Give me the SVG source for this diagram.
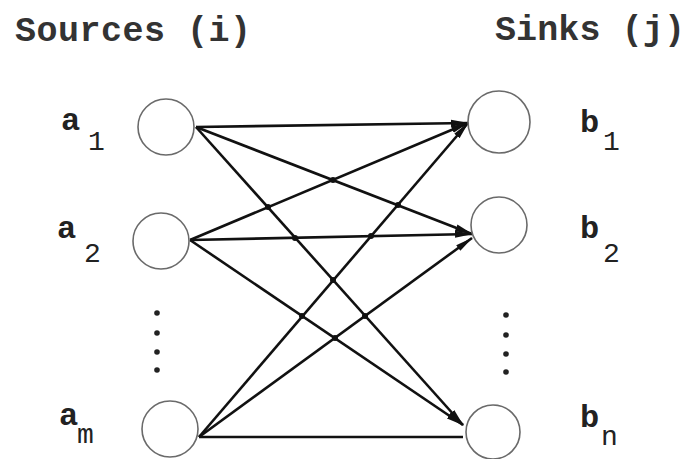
<svg xmlns="http://www.w3.org/2000/svg" width="686" height="459" viewBox="0 0 686 459">
<style>
.node{fill:none;stroke:#6a6a6a;stroke-width:1.6}
.edge{stroke:#111;stroke-width:2.6;fill:none}
.lbl{font-family:"Liberation Mono","DejaVu Sans Mono",monospace;font-weight:bold;fill:#222}
.big{font-size:32px}
.sub{font-size:28px;font-weight:normal}
.title{font-family:"Liberation Mono","DejaVu Sans Mono",monospace;font-size:35px;font-weight:bold;fill:#333}
.jd{fill:#111}
.ell{fill:#222}
</style>
<defs>
<marker id="arr" markerUnits="userSpaceOnUse" markerWidth="18" markerHeight="8" refX="17" refY="4" orient="auto">
<path d="M0,0.5 L18,4 L0,7.5 z" fill="#111"/>
</marker>
</defs>
<text class="title" x="15" y="41" textLength="236" lengthAdjust="spacing">Sources (i)</text>
<text class="title" x="495" y="40" textLength="190" lengthAdjust="spacing">Sinks (j)</text>
<g id="connectors">
<line class="edge" x1="196" y1="127" x2="468" y2="123" marker-end="url(#arr)"/>
<line class="edge" x1="196" y1="127" x2="472" y2="234" marker-end="url(#arr)"/>
<line class="edge" x1="196" y1="127" x2="463" y2="425" marker-end="url(#arr)"/>
<line class="edge" x1="190" y1="240" x2="468" y2="123" marker-end="url(#arr)"/>
<line class="edge" x1="190" y1="240" x2="472" y2="234" marker-end="url(#arr)"/>
<line class="edge" x1="190" y1="240" x2="463" y2="425" marker-end="url(#arr)"/>
<line class="edge" x1="199" y1="437" x2="468" y2="123" marker-end="url(#arr)"/>
<line class="edge" x1="199" y1="437" x2="472" y2="238" marker-end="url(#arr)"/>
<line class="edge" x1="199" y1="437" x2="463" y2="437" stroke-width="2"/>
<circle class="jd" cx="333" cy="180" r="3"/>
<circle class="jd" cx="268" cy="207" r="3"/>
<circle class="jd" cx="295" cy="238" r="3"/>
<circle class="jd" cx="398" cy="205" r="3"/>
<circle class="jd" cx="333" cy="280" r="3"/>
<circle class="jd" cx="365" cy="316" r="3"/>
<circle class="jd" cx="371" cy="236" r="3"/>
<circle class="jd" cx="302" cy="316" r="3"/>
<circle class="jd" cx="335" cy="338" r="3"/>
</g>
<g id="a1">
<circle class="node" cx="166" cy="127" r="28"/>
<text class="lbl big" x="61" y="130">a</text>
<text class="lbl sub" x="88" y="150">1</text>
</g>
<g id="a2">
<circle class="node" cx="161" cy="241" r="28"/>
<text class="lbl big" x="57" y="238">a</text>
<text class="lbl sub" x="84" y="262">2</text>
</g>
<g id="am">
<circle class="node" cx="170" cy="429" r="28"/>
<text class="lbl big" x="59" y="425">a</text>
<text class="lbl sub" x="77" y="443">m</text>
</g>
<g id="b1">
<circle class="node" cx="499" cy="122" r="31"/>
<text class="lbl big" x="580" y="132">b</text>
<text class="lbl sub" x="603" y="150">1</text>
</g>
<g id="b2">
<circle class="node" cx="499" cy="225" r="28"/>
<text class="lbl big" x="580" y="238">b</text>
<text class="lbl sub" x="603" y="262">2</text>
</g>
<g id="bn">
<circle class="node" cx="493" cy="432" r="27"/>
<text class="lbl big" x="580" y="427">b</text>
<text class="lbl sub" x="601" y="445">n</text>
</g>
<g id="ellipsis-left">
<circle class="ell" cx="157" cy="313" r="2.8"/>
<circle class="ell" cx="157" cy="333" r="2.8"/>
<circle class="ell" cx="157" cy="352" r="2.8"/>
<circle class="ell" cx="157" cy="370" r="2.8"/>
</g>
<g id="ellipsis-right">
<circle class="ell" cx="506" cy="315" r="2.8"/>
<circle class="ell" cx="506" cy="335" r="2.8"/>
<circle class="ell" cx="506" cy="354" r="2.8"/>
<circle class="ell" cx="506" cy="372" r="2.8"/>
</g>
</svg>
